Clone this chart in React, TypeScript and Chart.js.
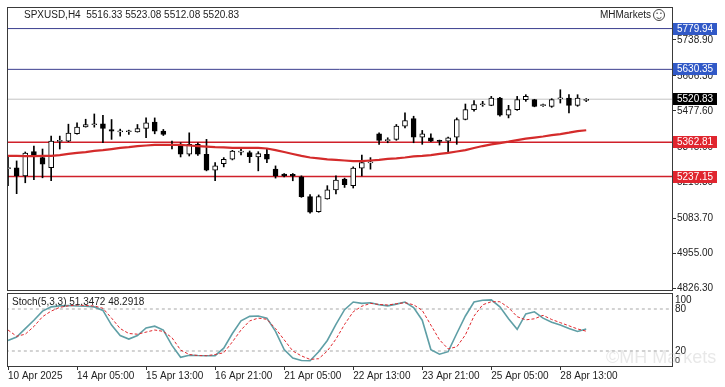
import React, { useEffect, useRef } from "react";
import { Chart, registerables } from "chart.js";
Chart.register(...registerables);

const FONT = "'Liberation Sans', Arial, sans-serif";

const headerText = "SPXUSD,H4  5516.33 5523.08 5512.08 5520.83";
const brandText = "MHMarkets";
const stochText = "Stoch(5,3,3) 51.3472 48.2918";
const watermarkText = "©MH Markets";

const opens = [5266, 5268.9, 5239.8, 5329.0, 5306.5, 5270.0, 5366, 5367.3, 5394.6, 5419.4, 5427, 5430.3, 5409, 5401, 5401.5, 5401.2, 5413.5, 5436.5, 5403.7, 5353, 5355.3, 5318.8, 5355.3, 5318.8, 5260.6, 5284.6, 5300.6, 5326.5, 5324.7, 5309.0, 5318.8, 5264.2, 5246.0, 5245, 5236.1, 5163.3, 5108.6, 5154.9, 5187.7, 5227.8, 5203.6, 5267.8, 5287.5, 5393.9, 5369, 5373.5, 5421.9, 5450.0, 5381.8, 5379.3, 5368, 5367.3, 5381.8, 5446.3, 5482.8, 5500.5, 5498.4, 5525.0, 5462.0, 5482.8, 5519.2, 5519.2, 5497, 5494.8, 5522, 5525.0, 5498.4, 5516.33];
const highs = [5312.6, 5294.4, 5327.2, 5349.1, 5338.1, 5385.5, 5385.5, 5429.2, 5433.9, 5447.4, 5466.7, 5462.0, 5446.3, 5411.0, 5407.3, 5428.1, 5452.2, 5452.2, 5409.9, 5367.3, 5361.1, 5397.5, 5361.1, 5373.5, 5288.2, 5306.5, 5333.4, 5339.2, 5330.8, 5328.3, 5337.0, 5276.2, 5248.2, 5248.2, 5239.8, 5170.6, 5169.5, 5203.6, 5239.8, 5231.4, 5272.6, 5316.3, 5306.5, 5397.5, 5379.3, 5428.1, 5470.4, 5458.4, 5406.3, 5393.9, 5370.9, 5381.8, 5452.2, 5503.2, 5515.5, 5513.0, 5531.2, 5527.6, 5498.4, 5531.2, 5537.4, 5520.5, 5503.2, 5522.8, 5555.6, 5537.4, 5537.4, 5523.08];
const lows = [5203.6, 5174.2, 5214.3, 5225.2, 5232.5, 5221.6, 5338.1, 5365, 5392.8, 5418.3, 5418.3, 5361.1, 5373.5, 5385.5, 5391.7, 5400, 5379.3, 5393.9, 5387.7, 5338.1, 5309.0, 5312.6, 5314.5, 5258.0, 5221.6, 5272.6, 5298.1, 5316.3, 5288.2, 5258.0, 5288.2, 5231.4, 5236.1, 5221.6, 5160.8, 5102.4, 5106.1, 5154, 5173.1, 5197.1, 5195.0, 5239.8, 5264.2, 5355.3, 5361.1, 5370, 5415.7, 5361.1, 5355.3, 5365, 5352.7, 5324.7, 5355.3, 5445, 5476.6, 5494.8, 5497, 5458.4, 5452.2, 5480, 5513.0, 5493, 5494.8, 5491, 5506.8, 5470.4, 5494.8, 5512.08];
const closes = [5270, 5239.8, 5323.6, 5316.3, 5282.4, 5367.3, 5369, 5396.4, 5418.3, 5428.1, 5428.5, 5413.5, 5403.7, 5402, 5402.5, 5413.5, 5433.9, 5403.7, 5391.7, 5352, 5318.8, 5355.3, 5318.8, 5260.6, 5276.2, 5300.6, 5330.8, 5327.5, 5310.1, 5321.0, 5300.6, 5239.8, 5239.8, 5239.8, 5163.3, 5106.1, 5163.3, 5188.8, 5224.1, 5207.0, 5267.8, 5288.2, 5288.5, 5369.8, 5370.5, 5421.9, 5442.7, 5381.8, 5393.9, 5367.3, 5366, 5379.3, 5446.3, 5482.8, 5501.0, 5501.5, 5525.0, 5462.0, 5482.8, 5519.2, 5531.2, 5494.8, 5499, 5519.2, 5524, 5498.4, 5525.0, 5520.83];
const maValues = [5312.6, 5312.6, 5312, 5312, 5313, 5313, 5316, 5320, 5324, 5327, 5331, 5334, 5338, 5342, 5345, 5349, 5351, 5353, 5353, 5353, 5353, 5351, 5349, 5347, 5345, 5344, 5342, 5342, 5342, 5342, 5340, 5334, 5327, 5320, 5313, 5307, 5304, 5300, 5298, 5296, 5294, 5294, 5296, 5298, 5302, 5304, 5307, 5311, 5313, 5316, 5320, 5324, 5329, 5334, 5342, 5349, 5355, 5360, 5365, 5371, 5376, 5380, 5384, 5389, 5393, 5398, 5404, 5407];
const stochMain = [35, 40, 52, 64, 77, 83, 84.5, 85, 84.3, 84, 83, 78, 57, 42, 37, 42, 53, 55.5, 50, 28, 11, 14, 13.5, 13.3, 13.3, 24, 45, 63, 69.5, 70, 67, 48, 22, 10, 6.5, 6, 19, 35, 58, 79, 90, 88, 89, 86, 84.5, 87, 90, 82, 64, 22, 15.5, 19, 45, 70, 90, 92.5, 93, 83, 66, 51, 73, 76, 67, 61, 57, 52, 48, 51.35];
const stochSignal = [50, 41, 44, 55, 69, 77, 82.4, 84.5, 85.7, 85, 84.3, 81, 67, 52, 45, 44, 47, 50, 48, 39, 21.4, 15, 13.5, 13.3, 15, 17.5, 33, 50, 63, 67, 65.3, 52, 36, 20, 13, 8, 9, 20, 37, 58, 76, 84, 88, 86.5, 85.7, 87.5, 89, 86, 78, 57, 36, 23, 26, 43, 70, 86, 90.4, 90.4, 82, 69, 64.5, 66, 71, 65, 60.5, 56, 51.5, 48.29];

const priceTicks = [5738.9, 5606.3, 5477.6, 5345.0, 5216.3, 5083.7, 4955.0, 4826.3];
const blueLevels = [5779.94, 5630.35];
const redLevels = [5362.81, 5237.15];
const lastPrice = 5520.83;
const stochTicks = [100, 80, 20, 0];
const stochLevels = [80, 20];
const xTickLabels = ["10 Apr 2025", "14 Apr 05:00", "15 Apr 13:00", "16 Apr 21:00", "21 Apr 05:00", "22 Apr 13:00", "23 Apr 21:00", "25 Apr 05:00", "28 Apr 13:00"];
const xTickStep = 8;

const X_MIN = -0.116;
const X_MAX = 76.94;
const Y_MIN = 4820.9;
const Y_MAX = 5859.1;

const hLine = (v: number) => [{ x: X_MIN - 5, y: v }, { x: X_MAX + 5, y: v }];

const mainDecor = {
  id: "mainDecor",
  afterDraw(chart: any) {
    const { ctx, chartArea: a, scales } = chart;
    ctx.save();
    ctx.strokeStyle = "#3a3a3a";
    ctx.lineWidth = 1;
    ctx.strokeRect(Math.floor(a.left) + 0.5, Math.floor(a.top) + 0.5, Math.round(a.right - a.left), Math.round(a.bottom - a.top));
    ctx.font = `10px ${FONT}`;
    ctx.textBaseline = "middle";
    ctx.fillStyle = "#222";
    ctx.textAlign = "left";
    ctx.fillText(headerText, 24, 15);
    ctx.textAlign = "right";
    ctx.fillText(brandText, 651, 15);
    ctx.strokeStyle = "#444";
    ctx.beginPath();
    ctx.arc(659, 15, 5.5, 0, Math.PI * 2);
    ctx.stroke();
    ctx.fillStyle = "#444";
    ctx.fillRect(656.5, 12.5, 1.2, 1.5);
    ctx.fillRect(660.3, 12.5, 1.2, 1.5);
    ctx.beginPath();
    ctx.arc(659, 15.5, 3, 0.2 * Math.PI, 0.8 * Math.PI);
    ctx.stroke();
    const boxes: [number, string][] = [
      ...blueLevels.map((v) => [v, "#3159c7"] as [number, string]),
      [lastPrice, "#000000"],
      ...redLevels.map((v) => [v, "#e0262f"] as [number, string]),
    ];
    ctx.textAlign = "left";
    boxes.forEach(([v, c]) => {
      const y = Math.round(scales.y.getPixelForValue(v));
      ctx.fillStyle = c;
      ctx.fillRect(673, y - 6, 44, 12);
      ctx.fillStyle = "#fff";
      ctx.fillText(v.toFixed(2), 677, y + 0.5);
    });
    ctx.restore();
  },
};

const stochDecor = {
  id: "stochDecor",
  afterDraw(chart: any) {
    const { ctx, chartArea: a, scales } = chart;
    ctx.save();
    ctx.strokeStyle = "#3a3a3a";
    ctx.lineWidth = 1;
    ctx.strokeRect(Math.floor(a.left) + 0.5, Math.floor(a.top) - 0.5, Math.round(a.right - a.left), Math.round(a.bottom - a.top) + 1);
    ctx.font = `10px ${FONT}`;
    ctx.textBaseline = "middle";
    ctx.textAlign = "left";
    ctx.fillStyle = "#222";
    ctx.fillText(stochText, 12, 11);
    stochTicks.forEach((v) => {
      let y = scales.y.getPixelForValue(v);
      y = Math.min(Math.max(y, a.top + 6), a.bottom - 5.5);
      ctx.font = v === 0 ? `9px ${FONT}` : `10px ${FONT}`;
      ctx.fillText(String(v), 675, y);
    });
    ctx.font = `18px ${FONT}`;
    ctx.fillStyle = "rgba(190,190,190,0.35)";
    ctx.fillText(watermarkText, 606, 67);
    ctx.restore();
  },
};

export default function App() {
  const mainRef = useRef<HTMLCanvasElement>(null);
  const stochRef = useRef<HTMLCanvasElement>(null);

  useEffect(() => {
    const idx = opens.map((_, i) => i);
    const wickData = idx.map((i) => ({ x: i, y: [lows[i], highs[i]] }));
    const bodyData = idx.map((i) => ({ x: i, y: [opens[i], closes[i]] }));
    const bodyColors = idx.map((i) => (closes[i] >= opens[i] ? "#ffffff" : "#000000"));

    const main = new Chart(mainRef.current as HTMLCanvasElement, {
      type: "bar",
      data: {
        datasets: [
          { type: "line", data: hLine(lastPrice), borderColor: "#c4c4c4", borderWidth: 1, pointRadius: 0, order: 10 } as any,
          ...blueLevels.map((v) => ({ type: "line", data: hLine(v), borderColor: "#3b3f8f", borderWidth: 1, pointRadius: 0, order: 9 } as any)),
          ...redLevels.map((v) => ({ type: "line", data: hLine(v), borderColor: "#d0202a", borderWidth: 1.5, pointRadius: 0, order: 9 } as any)),
          { type: "bar", data: wickData, backgroundColor: "#000", barThickness: 1, grouped: false, order: 5, clip: 0 } as any,
          { type: "bar", data: bodyData, backgroundColor: bodyColors, borderColor: "#000", borderWidth: 1, borderSkipped: false, barThickness: 5, minBarLength: 1, grouped: false, order: 4, clip: 0 } as any,
          { type: "line", data: idx.map((i) => ({ x: i, y: maValues[i] })), borderColor: "#d42b2b", borderWidth: 2.2, pointRadius: 0, tension: 0, order: 3 } as any,
        ],
      },
      options: {
        animation: false,
        responsive: false,
        events: [],
        layout: { padding: { left: 7, top: 5, right: 0, bottom: 10 } },
        plugins: { legend: { display: false }, tooltip: { enabled: false } },
        scales: {
          x: { type: "linear", min: X_MIN, max: X_MAX, display: false, offset: false },
          y: {
            position: "right",
            min: Y_MIN,
            max: Y_MAX,
            afterBuildTicks: (s: any) => {
              s.ticks = priceTicks.map((v) => ({ value: v }));
            },
            afterFit: (s: any) => {
              s.width = 53;
            },
            ticks: { font: { family: FONT, size: 10 }, color: "#222", padding: 1, autoSkip: false, callback: (v: any) => Number(v).toFixed(2) },
            grid: { display: true, drawOnChartArea: false, drawTicks: true, tickLength: 4, tickColor: "#333" },
            border: { display: false },
          },
        },
      } as any,
      plugins: [mainDecor],
    });

    const stoch = new Chart(stochRef.current as HTMLCanvasElement, {
      type: "line",
      data: {
        datasets: [
          ...stochLevels.map((v) => ({ data: hLine(v), borderColor: "#a8a8a8", borderWidth: 1, borderDash: [3, 3], pointRadius: 0, order: 5 })),
          { data: idx.map((i) => ({ x: i, y: stochMain[i] })), borderColor: "#5f9fa6", borderWidth: 1.6, pointRadius: 0, tension: 0, order: 3 },
          { data: idx.map((i) => ({ x: i, y: stochSignal[i] })), borderColor: "#e0282e", borderWidth: 1, borderDash: [3, 2], pointRadius: 0, tension: 0, order: 2 },
        ],
      },
      options: {
        animation: false,
        responsive: false,
        events: [],
        layout: { padding: { left: 7, top: 3, right: 0, bottom: 0 } },
        plugins: { legend: { display: false }, tooltip: { enabled: false } },
        scales: {
          x: {
            type: "linear",
            min: X_MIN,
            max: X_MAX,
            position: "bottom",
            offset: false,
            afterBuildTicks: (s: any) => {
              s.ticks = xTickLabels.map((_, k) => ({ value: k * xTickStep }));
            },
            afterFit: (s: any) => {
              s.height = 21;
            },
            ticks: { align: "start", font: { family: FONT, size: 10 }, color: "#222", padding: 0, maxRotation: 0, autoSkip: false, callback: (_v: any, i: number) => xTickLabels[i] },
            grid: { display: true, drawOnChartArea: false, tickLength: 4, tickColor: "#333" },
            border: { display: false },
          },
          y: {
            position: "right",
            min: -1.43,
            max: 101.43,
            afterFit: (s: any) => {
              s.width = 53;
            },
            ticks: { display: false },
            grid: { display: false },
            border: { display: false },
          },
        },
      } as any,
      plugins: [stochDecor],
    });

    return () => {
      main.destroy();
      stoch.destroy();
    };
  }, []);

  return (
    <div style={{ position: "fixed", left: 0, top: 0, width: 725, height: 387, background: "#fff" }}>
      <canvas ref={mainRef} width={725} height={300} style={{ position: "absolute", left: 0, top: 0 }} />
      <canvas ref={stochRef} width={725} height={96} style={{ position: "absolute", left: 0, top: 291 }} />
    </div>
  );
}
